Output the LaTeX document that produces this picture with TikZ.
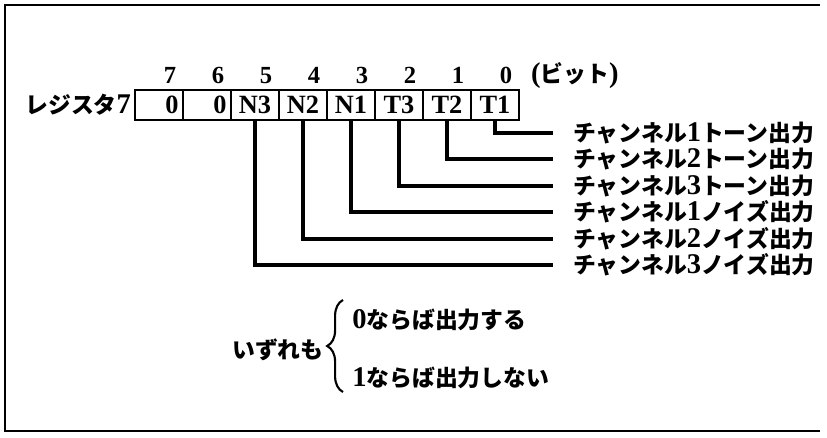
\documentclass[tikz,border=0pt]{standalone}
\usepackage{fontspec}
\setmainfont{Liberation Serif}
\newfontfamily\jp{Noto Sans CJK JP}
\newfontfamily\latn{Liberation Serif}[Scale=1.25]
\usetikzlibrary{positioning,calc,decorations.pathreplacing}

\begin{document}
\begin{tikzpicture}[x=0.02cm, y=-0.02cm, font=\bfseries,
    cell/.style={draw, line width=1.3pt, minimum width=0.96cm, minimum height=0.6cm,
      inner sep=0pt, text width=0.78cm, font=\bfseries\fontsize{15}{17}\selectfont},
    bitno/.style={font=\bfseries\fontsize{14}{16}\selectfont},
    lbl/.style={font=\bfseries\fontsize{13}{15}\selectfont\jp, inner sep=0pt},
    outlbl/.style={lbl, anchor=west, inner xsep=0.4cm},
    wire/.style={line width=2.2pt},
    brace/.style={decorate, line width=1.2pt, decoration={brace, amplitude=9pt}}]
  \useasboundingbox (0,0) rectangle (827,438);
  % frame, open on the right
  \draw[line width=1.2pt] (820,5) -- (5,5) -- (5,431) -- (820,431);

  % register cells, bit 7 on the left
  \foreach \bit/\txt/\al in {7/0/right,6/0/right,5/N3/center,4/N2/center,
      3/N1/center,2/T3/center,1/T2/center,0/T1/center} {
    \node[cell, align=\al] (b\bit) at ({159+48*(7-\bit)},105) {\txt};
    \node[bitno] (n\bit) at ($(b\bit.north)+(11,-13)$) {\bit};
  }
  \node[lbl, left=0.05cm of b7] (reg) {レジスタ{\latn 7}};
  \node[lbl, right=0.25cm of n0] (unit) {{\latn(}ビット{\latn)}};

  % one line per output bit
  \foreach \bit/\ch/\kind in {0/1/トーン,1/2/トーン,2/3/トーン,
      3/1/ノイズ,4/2/ノイズ,5/3/ノイズ} {
    \node[outlbl] (o\bit) at (553,{133+26.4*\bit}) {チャンネル{\latn\ch}\kind 出力};
    \draw[wire] (b\bit.south) |- (o\bit.west);
  }

  % meaning of the bits
  \node[lbl, anchor=west] (on) at (352,320) {{\latn 0}ならば出力する};
  \node[lbl, anchor=west] (off) at (352,378) {{\latn 1}ならば出力しない};
  \node[lbl, anchor=east] (all) at (324,350) {いずれも};
  \draw[brace] ($(off.west)+(-9,14)$) -- ($(on.west)+(-9,-20)$);
\end{tikzpicture}
\end{document}
